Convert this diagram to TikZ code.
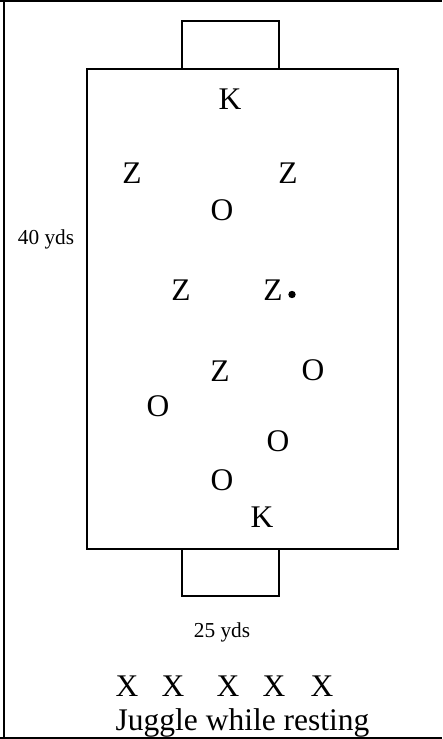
\documentclass[tikz,border=0pt]{standalone}
\usepackage{fontspec}
\setmainfont{Liberation Serif}
\begin{document}
\begin{tikzpicture}[x=1pt,y=-1pt,
  line/.style={draw=black,line width=1.7pt},
  frame/.style={draw=black,line width=2.2pt},
  big/.style={inner sep=0pt,anchor=base,font=\fontsize{31.5}{36}\selectfont},
  small/.style={inner sep=0pt,anchor=base,font=\fontsize{21.3}{25}\selectfont}]
\useasboundingbox (0,0) rectangle (442,739);
% frame
\draw[frame] (0,1.3) -- (442,1.3);
\draw[frame] (3.6,0) -- (3.6,739);
\draw[frame] (0,737.6) -- (442,737.6);
% field and goals
\draw[line] (87,69) rectangle (398,549);
\draw[line] (182,69) -- (182,21) -- (279,21) -- (279,69);
\draw[line] (182,549) -- (182,596) -- (279,596) -- (279,549);
% labels
\node[small] (w) at (46,244) {40 yds};
\node[small] (l) at (222,637) {25 yds};
% players
\node[big] (k1) at (230,109.5) {K};
\node[big] (z1) at (132,183.5) {Z};
\node[big] (z2) at (288,183.5) {Z};
\node[big] (o1) at (222,220.5) {O};
\node[big] (z3) at (181,300.5) {Z};
\node[big] (z4) at (273,300.5) {Z};
\fill (292,294.5) circle (3.7);
\node[big] (z5) at (220,381.5) {Z};
\node[big] (o2) at (313,380.5) {O};
\node[big] (o3) at (158,416.5) {O};
\node[big] (o4) at (278,451.5) {O};
\node[big] (o5) at (222,490.5) {O};
\node[big] (k2) at (262,527.5) {K};
% resting players
\node[big] (x1) at (127,696.5) {X};
\node[big] (x2) at (173,696.5) {X};
\node[big] (x3) at (228,696.5) {X};
\node[big] (x4) at (274,696.5) {X};
\node[big] (x5) at (322,696.5) {X};
\node[big] (j) at (242.5,730) {Juggle while resting};
\end{tikzpicture}
\end{document}
